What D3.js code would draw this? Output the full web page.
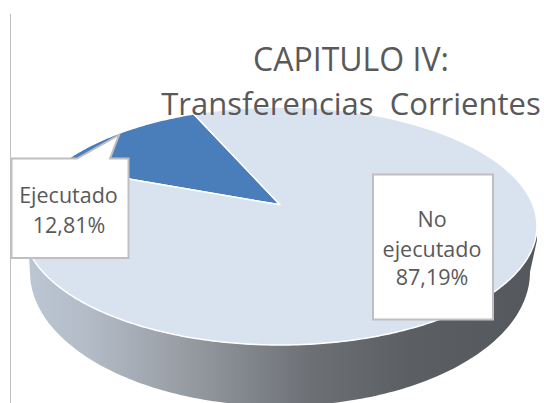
<!DOCTYPE html>
<html><head><meta charset="utf-8">
<script src="https://cdn.jsdelivr.net/npm/d3@7"></script>
<style>html,body{margin:0;padding:0;background:#fff;overflow:hidden}svg{display:block}text{font-family:"Open Sans",sans-serif}</style>
</head><body><svg id="c" width="544" height="403"></svg>
<script>
const categories = ["Ejecutado", "No ejecutado"];
const values = [12.81, 87.19];
const valueLabels = ["12,81%", "87,19%"];
const titleLines = ["CAPITULO IV:", "Transferencias  Corrientes"];
const sliceColors = ["#4a7ebb", "#d9e3f0"];

const W = 544, H = 403;
const svg = d3.select("#c");
const cx = 280, cy = 226, rx = 257, ry = 119, k = -0.178, apexS = Math.sqrt(1 - k * k);
const DEG = Math.PI / 180;

// perspective projection of the flat pie disc onto the tilted top face
const xS = d3.scaleLinear().domain([-1, 1]).range([cx - rx, cx + rx]);
const yS = d3.scaleLinear().domain([-1, 1]).range([cy - ry, cy + ry]);
function proj(u, v) {
  const w = 1 + k * v;
  return [xS(apexS * u / w), yS((v + k) / w)];
}
const pie = d3.pie().sort(null).startAngle(-69.5 * DEG).endAngle((360 - 69.5) * DEG);
const arcs = pie(values);
function wedge(a) {
  const pts = [proj(0, 0)];
  for (const t of d3.range(a.startAngle, a.endAngle, 0.01).concat(a.endAngle))
    pts.push(proj(Math.sin(t), -Math.cos(t)));
  return d3.line()(pts) + "Z";
}

// gradient for the extruded rim
const defs = svg.append("defs");
const g = defs.append("linearGradient").attr("id", "side").attr("gradientUnits", "userSpaceOnUse")
  .attr("x1", 25).attr("x2", 540).attr("y1", 0).attr("y2", 0);
[[0, "#bcc7d4"], [0.12, "#b3bcc7"], [0.33, "#94999f"], [0.55, "#6d7176"], [0.75, "#5b5f63"], [1, "#54575b"]]
  .forEach(s => g.append("stop").attr("offset", s[0]).attr("stop-color", s[1]));

// rim: bottom ellipse + connecting body
const bx = 280, by = 272, brx = 250, bry = 134;
const rimPts = [];
d3.range(0, Math.PI + 0.001, 0.02).forEach(t => rimPts.push([bx + brx * Math.cos(t), by + bry * Math.sin(t)]));
const rimTop = [];
d3.range(Math.PI, -0.001, -0.02).forEach(t => rimTop.push([cx + rx * Math.cos(t), cy + ry * Math.sin(t)]));
svg.append("path")
  .attr("d", d3.line()([[cx + rx, cy + 14]].concat(rimPts, [[cx - rx + 6, cy + 30]], rimTop)) + "Z")
  .attr("fill", "url(#side)");

// top face
svg.selectAll("path.slice").data(arcs).join("path").attr("class", "slice")
  .attr("d", wedge)
  .attr("fill", (d, i) => sliceColors[i])
  .attr("stroke", "#fff").attr("stroke-width", 1.5).attr("stroke-linejoin", "round");

// left rule
svg.append("line").attr("x1", 10.5).attr("x2", 10.5).attr("y1", 14).attr("y2", 403)
  .attr("stroke", "#bfbfbf").attr("stroke-width", 1);

// title
const title = svg.append("g").attr("fill", "#595959").attr("text-anchor", "middle");
title.append("text").attr("x", 351).attr("y", 71).attr("font-size", 32).text(titleLines[0]);
title.append("text").attr("x", 351).attr("y", 115).attr("font-size", 31).style("white-space", "pre").text(titleLines[1]);

// callouts
const box = svg.append("g");
box.append("path")
  .attr("d", d3.line()([[11.5, 158.5], [77, 158.5], [119, 135], [110, 158.5], [128.5, 158.5], [128.5, 258], [11.5, 258]]) + "Z")
  .attr("fill", "#fff").attr("stroke", "#bfbfbf").attr("stroke-width", 2);
box.append("rect").attr("x", 373).attr("y", 174.5).attr("width", 120).attr("height", 145)
  .attr("fill", "#fff").attr("stroke", "#bfbfbf").attr("stroke-width", 2);

const lab = svg.append("g").attr("fill", "#595959").attr("font-size", 21.5).attr("text-anchor", "middle");
lab.append("text").attr("x", 68.5).attr("y", 203).text(categories[0]);
lab.append("text").attr("x", 69).attr("y", 233).text(valueLabels[0]);
const parts = categories[1].split(" ");
lab.append("text").attr("x", 432).attr("y", 227).text(parts[0]);
lab.append("text").attr("x", 432).attr("y", 257).text(parts[1]);
lab.append("text").attr("x", 432).attr("y", 285).text(valueLabels[1]);
</script></body></html>
